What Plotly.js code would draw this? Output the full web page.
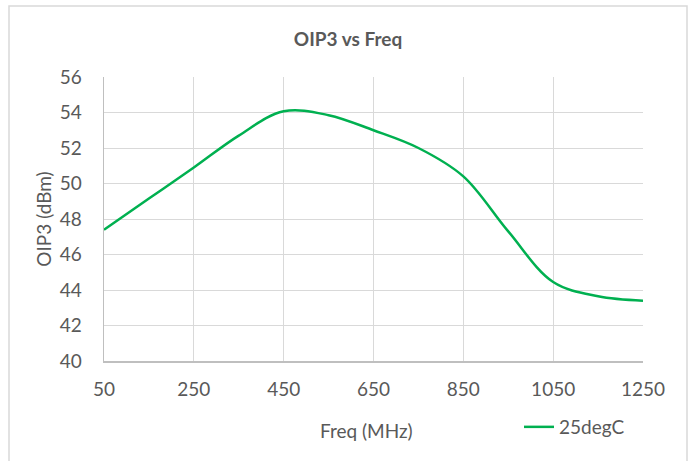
<!DOCTYPE html>
<html>
<head>
<meta charset="utf-8">
<script src="https://cdn.plot.ly/plotly-3.0.1.min.js"></script>
<style>html,body{margin:0;padding:0;background:#fff;}#chart{width:689px;height:461px;}</style>
</head>
<body>
<div id="chart"></div>
<script>
var freqMHz = [50, 150, 250, 350, 450, 550, 650, 750, 850, 950, 1050, 1150, 1250];
var oip3dBm = [47.4, 49.15, 50.9, 52.7, 54.07, 53.85, 53.0, 52.0, 50.4, 47.3, 44.45, 43.65, 43.4];
var seriesName = '25degC';
var xTicks = [50, 250, 450, 650, 850, 1050, 1250];
var yTicks = [40, 42, 44, 46, 48, 50, 52, 54, 56];

var txt = '#595959';
var W = 689, H = 461, L = 104, R = 46, T = 77, B = 100;
var pw = W - L - R, ph = H - T - B;
function px(x){ return (x - L) / pw; }
function py(y){ return (H - B - y) / ph; }

var trace = {
  x: freqMHz, y: oip3dBm, name: seriesName, type: 'scatter', mode: 'lines',
  line: {color: '#00B050', width: 2.5, shape: 'spline', smoothing: 1},
  showlegend: true
};

var layout = {
  width: W, height: H,
  margin: {l: L, r: R, t: T, b: B},
  paper_bgcolor: '#fff', plot_bgcolor: '#fff',
  font: {family: 'Lato, sans-serif', color: txt, size: 19},
  title: {text: '<b>OIP3 vs Freq</b>', font: {size: 19, color: txt, family: 'Lato, sans-serif'},
          x: px(348), xanchor: 'center', xref: 'paper', y: 1 - 39/H, yanchor: 'middle'},
  xaxis: {
    range: [50, 1250], tickvals: xTicks, ticktext: xTicks.map(String),
    showgrid: true, gridcolor: '#d9d9d9', gridwidth: 1,
    showline: true, linecolor: '#bfbfbf', linewidth: 1.5,
    zeroline: false, ticks: '', ticklabelstandoff: 11,
    tickfont: {size: 19, color: txt},
    fixedrange: true
  },
  yaxis: {
    range: [40, 56], tickvals: yTicks, ticktext: yTicks.map(String),
    showgrid: true, gridcolor: '#d9d9d9', gridwidth: 1,
    showline: true, linecolor: '#bfbfbf', linewidth: 1.5,
    zeroline: false, ticks: '', ticklabelstandoff: 17,
    tickfont: {size: 19, color: txt},
    title: {text: 'OIP3 (dBm)', font: {size: 19, color: txt}, standoff: 3},
    fixedrange: true
  },
  annotations: [{
    text: 'Freq (MHz)', xref: 'paper', yref: 'paper',
    x: px(366), y: py(430), xanchor: 'center', yanchor: 'middle',
    showarrow: false, font: {size: 19, color: txt}
  }],
  legend: {
    x: px(519), xanchor: 'left', y: py(427), yanchor: 'middle',
    orientation: 'h', bgcolor: 'rgba(0,0,0,0)', font: {size: 19, color: txt}
  },
  shapes: [{
    type: 'rect', xref: 'paper', yref: 'paper',
    x0: px(9), x1: px(687), y0: py(475), y1: py(6),
    line: {color: '#d9d9d9', width: 1.5}, fillcolor: 'rgba(0,0,0,0)', layer: 'below'
  }]
};

Plotly.newPlot('chart', [trace], layout, {displayModeBar: false, staticPlot: true});
</script>
</body>
</html>
